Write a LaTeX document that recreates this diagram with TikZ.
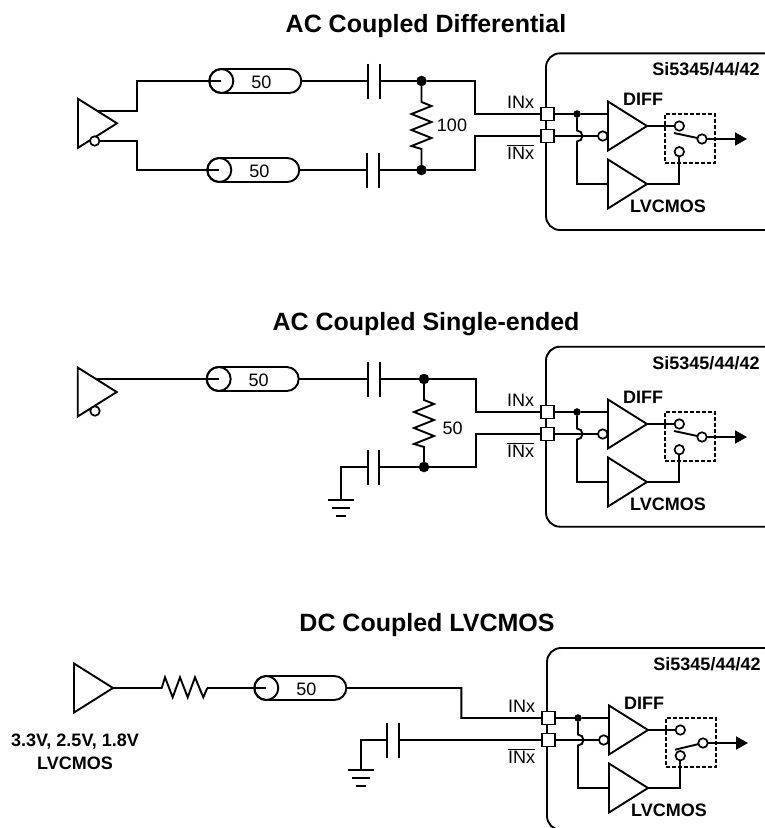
\documentclass[tikz,border=0pt]{standalone}
\usepackage{fontspec}
\setmainfont{Liberation Sans}
\usetikzlibrary{arrows.meta,shapes.geometric,shapes.misc}

\def\wirew{1.9pt}

\tikzset{
  wire/.style={line width=\wirew},
  lbl/.style={inner sep=0pt,anchor=base,font=\fontsize{18}{20}\selectfont},
  blbl/.style={lbl,font=\fontsize{18}{20}\selectfont\bfseries},
  ttl/.style={inner sep=0pt,anchor=base,font=\fontsize{25}{28}\selectfont\bfseries},
  buf/.style={draw,line width=\wirew,isosceles triangle,isosceles triangle stretches,
    minimum width=49pt,minimum height=39pt,inner sep=0pt,outer sep=0pt,anchor=lower side},
  bubble/.style={draw,line width=1.7pt,circle,fill=white,minimum size=9.5pt,inner sep=0pt,outer sep=0pt},
  dot/.style={draw,circle,fill=black,minimum size=#1,inner sep=0pt,outer sep=0pt},
  pinbox/.style={draw,line width=\wirew,fill=white,minimum size=13pt,inner sep=0pt,outer sep=0pt},
  coaxbody/.style={draw,line width=\wirew,rounded rectangle,minimum width=92pt,minimum height=24pt,inner sep=0pt,outer sep=0pt},
  coaxend/.style={draw,line width=\wirew,circle,minimum size=24pt,inner sep=0pt,outer sep=0pt},
  swbox/.style={draw,line width=2.1pt,dash pattern=on 3.6pt off 2.4pt,minimum width=50pt,minimum height=48.7pt,inner sep=0pt},
}

% coax: name, left end x, y
\newcommand{\coax}[3]{
  \node[coaxbody] (#1) at (#2+46,#3) {};
  \node[coaxend] (#1e) at (#2+12,#3) {};
  \node[lbl] at (#2+52,#3+7.5) {50};
}
% capacitor: name, first plate x, y
\newcommand{\capac}[3]{
  \coordinate (#1l) at (#2,#3);
  \coordinate (#1r) at (#2+11.7,#3);
  \draw[wire] (#2,#3-17.5) -- (#2,#3+17.5);
  \draw[wire] (#2+11.7,#3-17.5) -- (#2+11.7,#3+17.5);
}
% ground: name, x, y
\newcommand{\gnd}[3]{
  \coordinate (#1) at (#2,#3);
  \draw[wire] (#2-13,#3) -- (#2+13,#3);
  \draw[wire] (#2-9,#3+8) -- (#2+9,#3+8);
  \draw[wire] (#2-5,#3+16) -- (#2+5,#3+16);
}
% resistor between two dots
\newcommand{\resv}[2]{
  \draw[wire] (#1) -- ++(0,21) -- ++(10,4) -- ++(-20,8) -- ++(20,8) -- ++(-20,8) -- ++(20,8)
    -- ++(-20,8) -- ++(10,3) -- (#2);
}
% receiver: name, x shift, y shift, box top, box bottom, title y, lever y
\newcommand{\rxblock}[7]{
  \begin{scope}[shift={(#2,#3)}]
    \draw[wire,rounded corners=14pt] (770,#4) -- (546,#4) -- (546,#5) -- (770,#5);
    \node[blbl] (#1t) at (706,#6) {Si5345/44/42};

    \node[pinbox] (#1p) at (547.5,114) {};
    \node[pinbox] (#1n) at (547.5,136) {};
    \node[lbl] (#1pl) at (520.7,108.3) {INx};
    \node[lbl] (#1nl) at (520.7,159) {$\overline{\mbox{INx}}$};

    \node[buf] (#1d) at (608,126) {};
    \node[buf] (#1c) at (608,184) {};
    \node[blbl] (#1dl) at (643,105) {DIFF};
    \node[blbl] (#1cl) at (668,212.7) {LVCMOS};
    \node[dot=7pt] (#1j) at (577,114) {};
    \node[bubble] (#1b) at (602.7,136) {};

    \draw[wire] (#1p) -- (#1j) -- (608,114);
    \draw[wire] (#1n) -- (#1b);
    \draw[wire] (#1j) -- (577,130.5) arc[start angle=90,end angle=-90,radius=5.5pt] -- (577,184) -- (608,184);

    \node[swbox] (#1s) at (690,138.4) {};
    \coordinate (#1o) at (747,139);
    \coordinate (#1k) at (679.3,184);
    \coordinate (#1v) at (674,#7);
    \draw[wire] (#1d.apex) -- (679.3,126);
    \draw[wire] (#1c.apex) -- (#1k) -- (679.3,151.7);
    \draw[wire] (#1v) -- (702,139);
    \draw[wire,-{Triangle[length=12pt,width=13pt]}] (702,139) -- (#1o);
    \node[bubble] (#1st) at (679.3,126) {};
    \node[bubble] (#1sb) at (679.3,151.7) {};
    \node[bubble] (#1sr) at (702,139) {};
  \end{scope}
}

\begin{document}
\begin{tikzpicture}[x=1pt,y=-1pt]
  \useasboundingbox (0,0) rectangle (764,828);

  % first circuit
  \node[ttl] (titleA) at (426,32.3) {AC Coupled Differential};
  \node[buf] (txA) at (78,123.3) {};
  \coordinate (txAp) at (98,111);
  \coax{cabA}{209.3}{81}
  \coax{cabB}{207.3}{170}
  \capac{capA}{368}{81}
  \capac{capB}{367.3}{170}
  \node[dot=10pt] (dotA) at (421.5,81) {};
  \node[dot=10pt] (dotB) at (421.5,170) {};
  \resv{dotA}{dotB}
  \node[lbl] (resA) at (452,131) {100};
  \rxblock{rxA}{0}{0}{53.3}{230}{75}{133}
  \draw[wire] (txAp) -- (137,111) -- (137,81) -- (cabAe.center);
  \draw[wire] (94.7,141) -- (137,141) -- (137,170) -- (cabBe.center);
  \node[bubble] (txAb) at (94.7,141) {};
  \draw[wire] (cabA) -- (capAl);
  \draw[wire] (cabB) -- (capBl);
  \draw[wire] (capAr) -- (dotA) -- (475,81) -- (475,114) -- (rxAp);
  \draw[wire] (capBr) -- (dotB) -- (475,170) -- (475,136) -- (rxAn);

  % second circuit
  \node[ttl] (titleB) at (426,330.7) {AC Coupled Single-ended};
  \node[buf] (txB) at (77.7,392) {};
  \node[bubble] (txBb) at (95,411) {};
  \coordinate (txBp) at (96.7,379);
  \coax{cabC}{206.7}{379}
  \capac{capC}{368.3}{379}
  \capac{capD}{367.7}{467}
  \node[dot=10pt] (dotC) at (424,379) {};
  \node[dot=10pt] (dotD) at (424,467) {};
  \resv{dotC}{dotD}
  \node[lbl] (resB) at (452.7,434.3) {50};
  \gnd{gndA}{340.7}{500}
  \rxblock{rxB}{0}{298}{48.7}{228.7}{71.5}{133}
  \draw[wire] (txBp) -- (cabCe.center);
  \draw[wire] (cabC) -- (capCl);
  \draw[wire] (capCr) -- (dotC) -- (476,379) -- (476,412) -- (rxBp);
  \draw[wire] (gndA) -- (340.7,467) -- (capDl);
  \draw[wire] (capDr) -- (dotD) -- (476,467) -- (476,434) -- (rxBn);

  % third circuit
  \node[ttl] (titleC) at (427,631) {DC Coupled LVCMOS};
  \node[buf] (txC) at (74,688) {};
  \node[blbl] (txCa) at (75,746.8) {3.3V, 2.5V, 1.8V};
  \node[blbl] (txCb) at (75,769) {LVCMOS};
  \coordinate (resCa) at (161.7,688);
  \coordinate (resCb) at (207.3,688);
  \coax{cabD}{254.3}{688}
  \capac{capE}{387}{740}
  \gnd{gndB}{361.3}{770}
  \rxblock{rxC}{1}{604}{44}{226}{66.7}{145.7}
  \draw[wire] (txC.apex) -- (resCa) -- ++(3.3,-10.7) -- ++(7.7,20) -- ++(7.3,-20) -- ++(7.7,20) -- ++(7.3,-20) -- ++(8.3,20) -- (resCb);
  \draw[wire] (resCb) -- (cabDe.center);
  \draw[wire] (cabD) -- (461.3,688) -- (461.3,718) -- (rxCp);
  \draw[wire] (gndB) -- (361.3,740) -- (capEl);
  \draw[wire] (capEr) -- (rxCn);
\end{tikzpicture}
\end{document}
